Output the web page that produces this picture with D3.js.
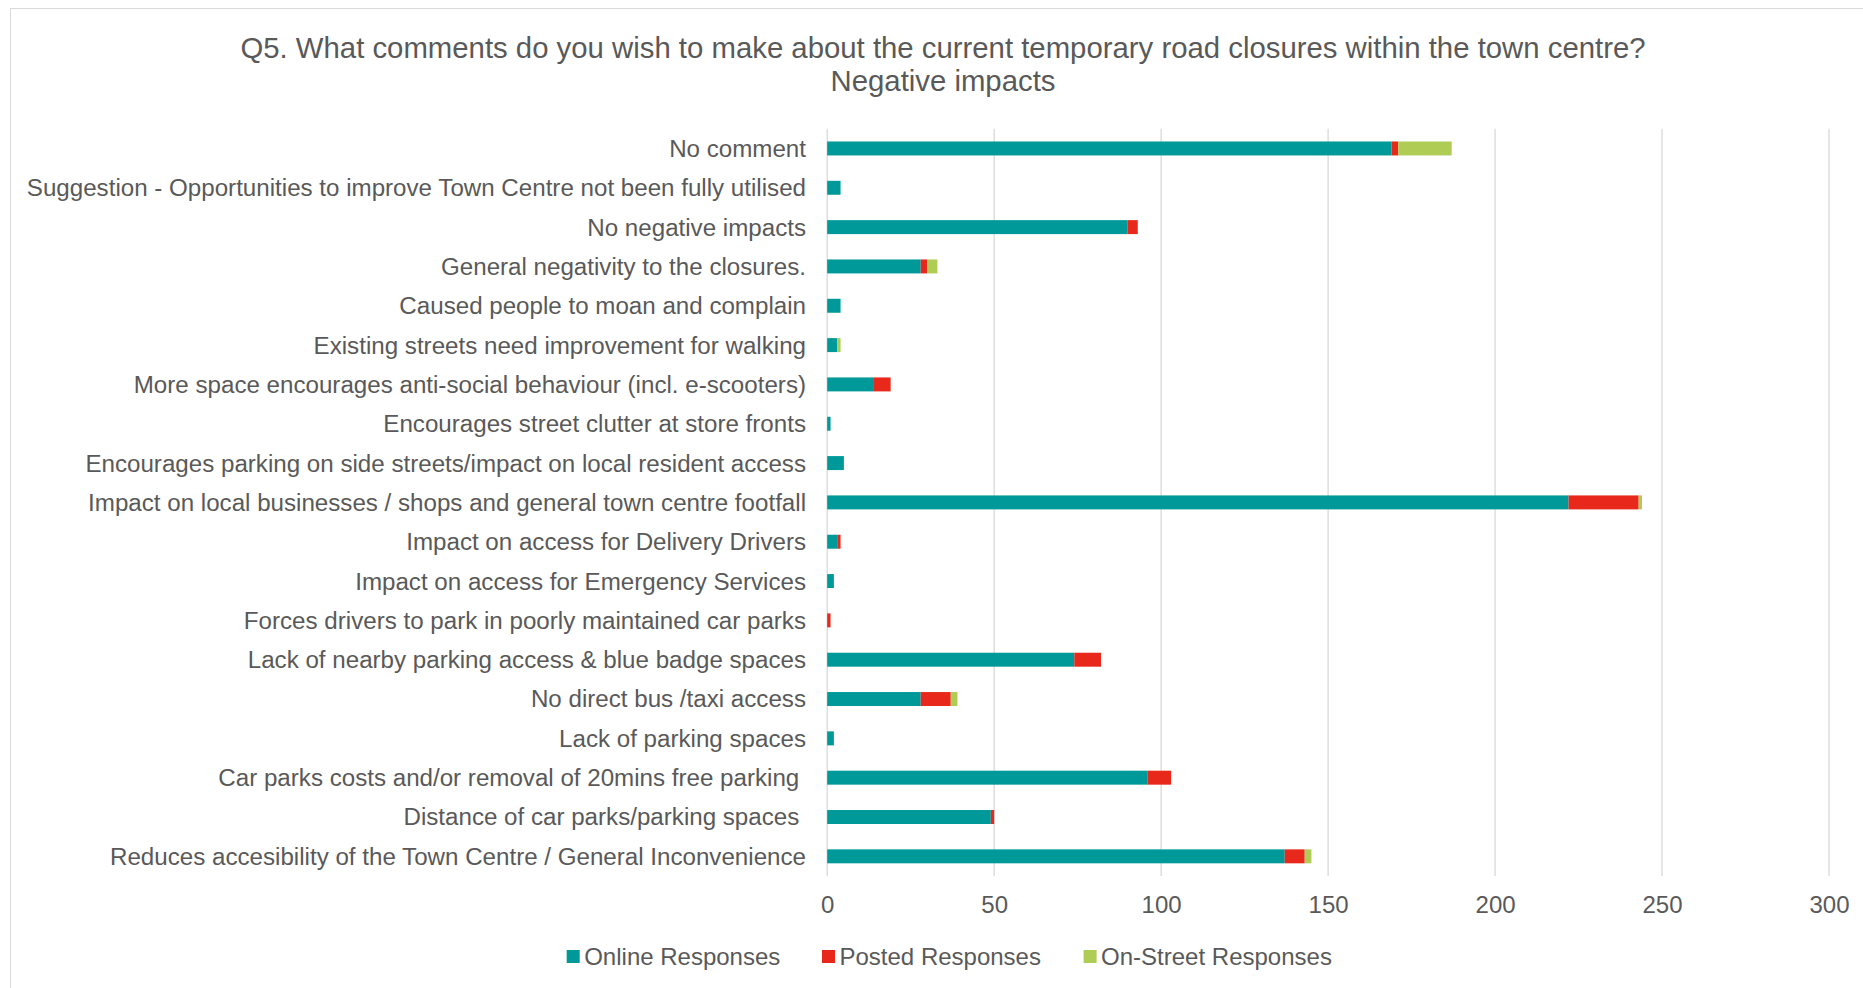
<!DOCTYPE html>
<html>
<head>
<meta charset="utf-8">
<script src="https://cdn.jsdelivr.net/npm/d3@7"></script>
<style>
html,body{margin:0;padding:0;background:#fff;}
svg{display:block;font-family:"Liberation Sans",Arial,sans-serif;}
</style>
</head>
<body>
<svg id="chart" width="1863" height="988"></svg>
<script>
const categories = [
  "No comment",
  "Suggestion - Opportunities to improve Town Centre not been fully utilised",
  "No negative impacts",
  "General negativity to the closures.",
  "Caused people to moan and complain",
  "Existing streets need improvement for walking",
  "More space encourages anti-social behaviour (incl. e-scooters)",
  "Encourages street clutter at store fronts",
  "Encourages parking on side streets/impact on local resident access",
  "Impact on local businesses / shops and general town centre footfall",
  "Impact on access for Delivery Drivers",
  "Impact on access for Emergency Services",
  "Forces drivers to park in poorly maintained car parks",
  "Lack of nearby parking access & blue badge spaces",
  "No direct bus /taxi access",
  "Lack of parking spaces",
  "Car parks costs and/or removal of 20mins free parking ",
  "Distance of car parks/parking spaces ",
  "Reduces accesibility of the Town Centre / General Inconvenience"
];
const online   = [169,4,90,28,4,3,14,1,5,222,3,2,0,74,28,2,96,49,137];
const posted   = [2,0,3,2,0,0,5,0,0,21,1,0,1,8,9,0,7,1,6];
const onStreet = [16,0,0,3,0,1,0,0,0,1,0,0,0,0,2,0,0,0,2];
const seriesNames = ["Online Responses","Posted Responses","On-Street Responses"];
const xTicks = [0,50,100,150,200,250,300];
const titleLines = ["Q5. What comments do you wish to make about the current temporary road closures within the town centre?","Negative impacts"];

const colors = ["#009999","#E8281A","#AFCC55"];
const textColor = "#595959";

const svg = d3.select("#chart");
// chart border
svg.append("rect").attr("x",10.5).attr("y",8.5).attr("width",1900).attr("height",1000)
  .attr("fill","#fff").attr("stroke","#d9d9d9").attr("stroke-width",1);

const plot = {left:827.2, right:1829, top:128.8, bottom:876};
const x = d3.scaleLinear().domain([0,300]).range([plot.left, plot.right]);
const y = d3.scaleBand().domain(categories).range([plot.top, plot.bottom]).paddingInner(0.645).paddingOuter(0.3225);

// gridlines
svg.append("g").selectAll("line").data(xTicks).join("line")
  .attr("x1",d=>x(d)).attr("x2",d=>x(d))
  .attr("y1",plot.top).attr("y2",plot.bottom)
  .attr("stroke","#d9d9d9").attr("stroke-width",1.3);

// stacked data
const rows = categories.map((c,i)=>({cat:c, online:online[i], posted:posted[i], onStreet:onStreet[i]}));
const keys = ["online","posted","onStreet"];
const stacked = d3.stack().keys(keys)(rows);

svg.append("g").selectAll("g").data(stacked).join("g")
  .attr("fill",(d,i)=>colors[i])
  .selectAll("rect").data(d=>d).join("rect")
  .attr("x",d=>x(d[0]))
  .attr("width",d=>Math.max(0,x(d[1])-x(d[0])))
  .attr("y",d=>y(d.data.cat))
  .attr("height",y.bandwidth());

// category labels
svg.append("g").selectAll("text").data(categories).join("text")
  .attr("x",806)
  .attr("y",d=>y(d)+y.bandwidth()/2)
  .attr("dy","0.35em")
  .attr("text-anchor","end")
  .attr("fill",textColor)
  .attr("font-size",24.15)
  .style("white-space","pre")
  .text(d=>d);

// x axis tick labels
const xAxis = d3.axisBottom(x).tickValues(xTicks).tickSize(0).tickPadding(0);
const gx = svg.append("g").attr("transform",`translate(0,${905})`).call(xAxis);
gx.select(".domain").remove();
gx.selectAll("text").attr("fill",textColor).attr("font-size",24)
  .attr("font-family","Liberation Sans, Arial, sans-serif").attr("dy","0.35em").attr("y",0);

// title
svg.append("g").selectAll("text").data(titleLines).join("text")
  .attr("x",943).attr("y",(d,i)=>i===0?47.5:80.8).attr("dy","0.35em")
  .attr("text-anchor","middle").attr("fill",textColor).attr("font-size",29.33)
  .text(d=>d);

// legend
const legendX = [566.7, 822, 1083.6];
const lg = svg.append("g").selectAll("g").data(seriesNames).join("g")
  .attr("transform",(d,i)=>`translate(${legendX[i]},956.5)`);
lg.append("rect").attr("x",0).attr("y",-6.5).attr("width",13).attr("height",13).attr("fill",(d,i)=>colors[i]);
lg.append("text").attr("x",17.5).attr("y",0).attr("dy","0.35em").attr("fill",textColor)
  .attr("font-size",24).text(d=>d);
</script>
</body>
</html>
